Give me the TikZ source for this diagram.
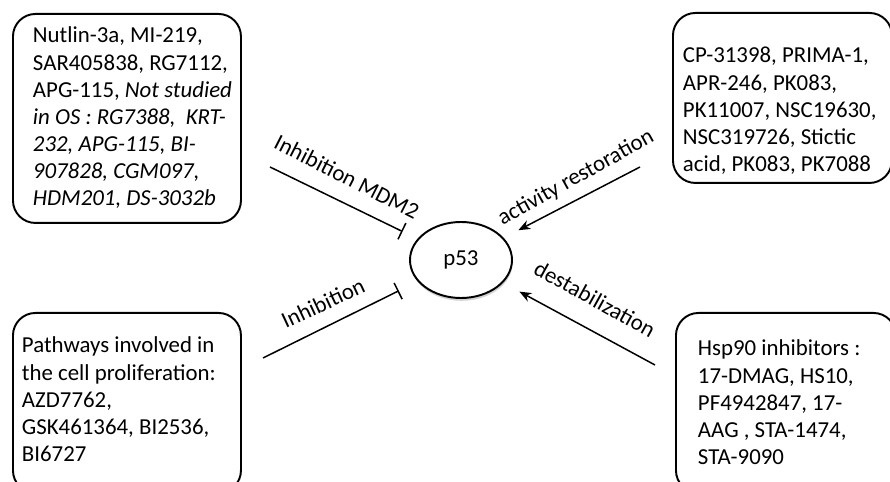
\documentclass[tikz,border=0pt]{standalone}
\usepackage{fontspec}
\setmainfont{Carlito}
\usetikzlibrary{arrows.meta,shadows,shapes.geometric}

\begin{document}
\begin{tikzpicture}[
		drugbox/.style={draw, line width=1.1pt, rounded corners=0.45cm, anchor=north west,
			align=flush left, text height=0.34cm, font=\fontsize{13}{15.4}\selectfont},
		target/.style={draw, ellipse, line width=1.1pt, fill=white, minimum width=2.04cm,
			minimum height=1.52cm, inner sep=0pt, font=\fontsize{13}{15.4}\selectfont,
			drop shadow={shadow xshift=0.4pt, shadow yshift=-1.6pt, opacity=0.35}},
		inhibit/.style={line width=0.85pt, -{Bar[width=0.36cm, line width=0.85pt]}},
		activate/.style={line width=0.85pt, -{Stealth[length=0.24cm, width=0.19cm]}},
		edgelabel/.style={font=\fontsize{13}{15.4}\selectfont, inner sep=1pt}
	]
	\useasboundingbox (0,0) rectangle (17.8,9.64);

	% centre
	\node[target] (p53) at (9.22,4.44) {p53};

	% the four groups of drugs
	\node[drugbox, inner xsep=0.4cm, inner ysep=0.24cm, text width=3.76cm, text depth=3.36cm]
		(mdmbox) at (0.24,9.38)
		{\mbox{Nutlin-3a, MI-219,}\\ \mbox{SAR405838, RG7112,}\\ \mbox{APG-115, \textit{Not studied}}\\
		\mbox{\textit{in OS : RG7388,\ \ KRT-}}\\ \mbox{\textit{232, APG-115, BI-}}\\
		\mbox{\textit{907828, CGM097,}}\\ \mbox{\textit{HDM201, DS-3032b}}};
	\node[drugbox, inner xsep=0.2cm, inner ysep=0.66cm, text width=3.98cm, text depth=1.74cm]
		(restorebox) at (13.44,9.40)
		{CP-31398, PRIMA-1,\\ APR-246, PK083,\\ \mbox{PK11007, NSC19630,}\\ NSC319726, Stictic\\
		acid, PK083, PK7088};
	\node[drugbox, inner xsep=0.18cm, inner ysep=0.46cm, text width=4.2cm, text depth=2.34cm]
		(prolifbox) at (0.24,3.40)
		{Pathways involved in\\ the cell proliferation:\\ AZD7762,\\ GSK461364, BI2536,\\ BI6727};
	\node[drugbox, inner xsep=0.44cm, inner ysep=0.52cm, text width=3.52cm, text depth=2.22cm]
		(hspbox) at (13.50,3.40)
		{Hsp90 inhibitors :\\ 17-DMAG, HS10,\\ PF4942847, 17-\\ AAG , STA-1474,\\ STA-9090};

	% free ends of the connectors
	\coordinate (mdmstart) at (5.40,6.30);
	\coordinate (restorestart) at (12.80,6.30);
	\coordinate (prolifstart) at (5.26,2.48);
	\coordinate (hspstart) at (13.10,2.34);

	\draw[inhibit, shorten >=0.33cm] (mdmstart) -- (p53);
	\draw[activate, shorten >=0.33cm] (restorestart) -- (p53);
	\draw[inhibit, shorten >=0.42cm] (prolifstart) -- (p53);
	\draw[activate, shorten >=0.37cm] (hspstart) -- (p53);

	% labels
	\node[edgelabel, rotate=-27] (mdmlabel) at (6.94,6.10) {Inhibition MDM2};
	\node[edgelabel, rotate=29] (restorelabel) at (11.52,6.08) {activity restoration};
	\node[edgelabel, rotate=25] (prolablabel) at (6.46,3.58) {Inhibition};
	\node[edgelabel, rotate=-29] (hsplabel) at (11.90,3.66) {destabilization};
\end{tikzpicture}
\end{document}
